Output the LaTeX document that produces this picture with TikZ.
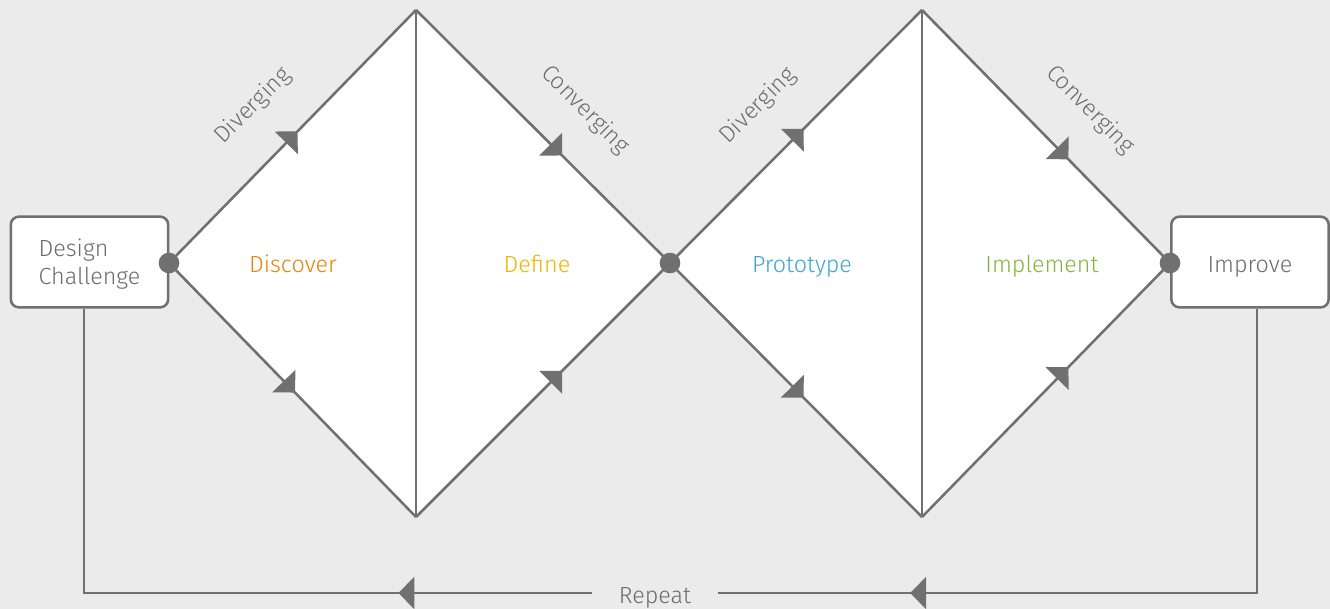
\documentclass[tikz,border=0pt]{standalone}
\usepackage{fontspec}
\setmainfont{Fira Sans}[UprightFont=* Light]
\usetikzlibrary{arrows.meta,decorations.markings,calc}

\definecolor{bgGrey}{RGB}{235,235,235}
\definecolor{lineGrey}{RGB}{112,112,112}
\definecolor{textGrey}{RGB}{108,108,108}
\definecolor{discoverOrange}{RGB}{232,130,12}
\definecolor{defineYellow}{RGB}{240,180,0}
\definecolor{protoBlue}{RGB}{58,166,207}
\definecolor{implGreen}{RGB}{134,179,60}

\tikzset{every picture/.style={line width=1.9pt}}
\tikzset{
  flowtip/.tip={Triangle[length=12pt,width=24pt]},
  midarrow/.style={postaction={decorate,decoration={markings,mark=at position #1 with {\arrow{flowtip}}}}},
  midarrow/.default=0.5,
  stagebox/.style={draw=lineGrey,fill=white,rounded corners=6pt,minimum width=118pt,minimum height=68pt,
    text=textGrey,font=\fontsize{17.5}{21}\selectfont,text depth=0pt},
  joint/.style={circle,fill=lineGrey,inner sep=0pt,minimum size=15.5pt},
  phase/.style={anchor=base,font=\fontsize{17.5}{21}\selectfont},
  edgelabel/.style={text=textGrey,font=\fontsize{17.5}{21}\selectfont}
}

\begin{document}
\begin{tikzpicture}[x=0.75pt,y=0.75pt,yscale=-1,xscale=1,draw=lineGrey]
\useasboundingbox[fill=bgGrey] (0,0) rectangle (1330,609);

% corner points of the two diamonds
\coordinate (L1) at (169,263);
\coordinate (T1) at (416,10);
\coordinate (B1) at (416,517);
\coordinate (M) at (670,263);
\coordinate (T2) at (922,10);
\coordinate (B2) at (922,517);
\coordinate (R2) at (1170,263);

%Shape: Diamonds (white)
\fill[white] (L1) -- (T1) -- (M) -- (B1) -- cycle;
\fill[white] (M) -- (T2) -- (R2) -- (B2) -- cycle;

% Start and end boxes
\node[stagebox,align=left] (design) at (89.5,262) {Design\\Challenge};
\node[stagebox,text height=16.5pt] (improve) at (1250,262) {Improve};

% Repeat loop
\node[text=textGrey,font=\fontsize{17.5}{21}\selectfont,inner xsep=19.5pt,text height=15pt,text depth=0pt] (repeat) at (655,593) {Repeat};
\draw[midarrow=0.767] ($(improve.south)+(7,0)$) |- (repeat.east);
\draw[midarrow=0.244] (repeat.west) -| ($(design.south)+(-5.5,0)$);

%Straight Lines: first diamond
\draw[midarrow=0.52] (L1) -- (T1);
\draw[midarrow=0.575] (T1) -- (M);
\draw[midarrow=0.51] (L1) -- (B1);
\draw[midarrow=0.575] (B1) -- (M);
\draw (T1) -- (B1);

%Straight Lines: second diamond
\draw[midarrow=0.53] (M) -- (T2);
\draw[midarrow=0.59] (T2) -- (R2);
\draw[midarrow=0.53] (M) -- (B2);
\draw[midarrow=0.59] (B2) -- (R2);
\draw (T2) -- (B2);

% Joints
\node[joint] (jointA) at (L1) {};
\node[joint] (jointB) at (M) {};
\node[joint] (jointC) at (R2) {};

% Text Node
\node[edgelabel,rotate=45] (divergeA) at (253,106) {Diverging};
\node[edgelabel,rotate=-45] (convergeA) at (585,110) {Converging};
\node[edgelabel,rotate=45] (divergeB) at (758,106) {Diverging};
\node[edgelabel,rotate=-45] (convergeB) at (1090,110) {Converging};
% Text Node
\node[phase,text=discoverOrange] (discover) at (293,273) {Discover};
% Text Node
\node[phase,text=defineYellow] (define) at (537,273) {Define};
% Text Node
\node[phase,text=protoBlue] (prototype) at (802,273) {Prototype};
% Text Node
\node[phase,text=implGreen] (implement) at (1042,273) {Implement};

\end{tikzpicture}
\end{document}
